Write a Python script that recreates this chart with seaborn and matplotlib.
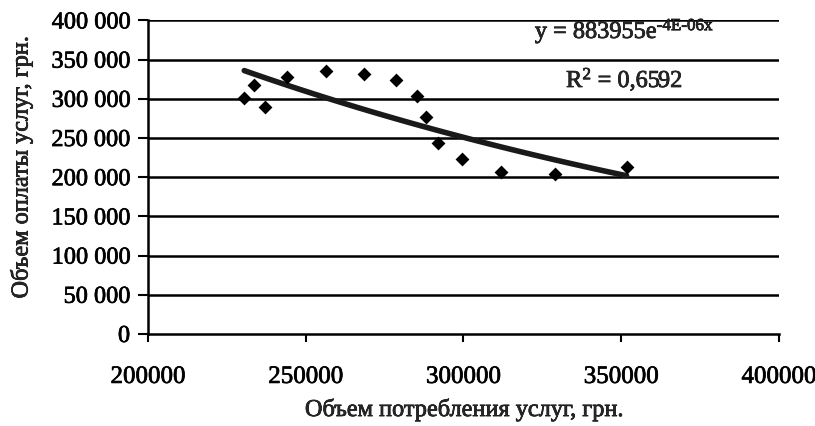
"""
Scatter of service payment vs. consumption with exponential trend line
"""

import numpy as np
import pandas as pd
import matplotlib
matplotlib.use('Agg')
import matplotlib.pyplot as plt
import matplotlib.patheffects as pe
from matplotlib.ticker import FuncFormatter, MultipleLocator
import seaborn as sns

# data
consumption = [230500, 233700, 237200, 244100, 256300, 268600, 278600,
               285200, 288100, 291900, 299600, 311900, 329100, 351700]
payment = [300800, 317700, 290000, 328300, 335600, 331800, 324100,
           303700, 276500, 244100, 222900, 206300, 203800, 213500]
eq_text = r'y = 883955e$^{\text{-4E-06x}}$'
r2_text = r'R$^{\mathrm{2}}$ = 0,6592'
x_label = 'Объем потребления услуг, грн.'
y_label = 'Объем оплаты услуг, грн.'

sns.set_style('white')
plt.rcParams['font.family'] = ['Liberation Serif', 'DejaVu Serif']
plt.rcParams['mathtext.fontset'] = 'custom'
plt.rcParams['mathtext.rm'] = 'Liberation Serif'
plt.rcParams['mathtext.it'] = 'Liberation Serif:italic'

# slightly heavier text, like the printed original
heavy = [pe.withStroke(linewidth=0.5, foreground='black')]

df = pd.DataFrame({'x': consumption, 'y': payment})

fig = plt.figure(figsize=(8.15, 4.26), dpi=100)
ax = fig.add_axes([0.1816, 0.216, 0.9558 - 0.1816, 0.952 - 0.216])

# exponential trend fitted on the data
b, ln_a = np.polyfit(df['x'], np.log(df['y']), 1)
xs = np.linspace(df['x'].min(), df['x'].max(), 100)
trend = pd.DataFrame({'x': xs, 'y': np.exp(ln_a) * np.exp(b * xs)})

for v in range(50000, 400001, 50000):
    ax.axhline(v, color='black', lw=1.8, zorder=1)

sns.lineplot(data=trend, x='x', y='y', ax=ax, color='#1a1a1a', lw=4, zorder=2)
sns.scatterplot(data=df, x='x', y='y', ax=ax, marker='D', color='black',
                s=50, edgecolor='black', linewidth=0, zorder=3)

ax.set_xlim(200000, 400000)
ax.set_ylim(0, 400000)
ax.xaxis.set_major_locator(MultipleLocator(50000))
ax.yaxis.set_major_locator(MultipleLocator(50000))
ax.yaxis.set_major_formatter(FuncFormatter(lambda v, p: f'{int(v):,}'.replace(',', ' ')))
ax.xaxis.set_major_formatter(FuncFormatter(lambda v, p: f'{int(v)}'))

for side in ['top', 'right']:
    ax.spines[side].set_visible(False)
for side in ['left', 'bottom']:
    ax.spines[side].set_color('black')
    ax.spines[side].set_linewidth(1.8)

ax.tick_params(axis='y', direction='out', length=7, width=1.5, pad=6,
               labelsize=17.5, left=True, colors='black')
ax.tick_params(axis='x', direction='out', length=6, width=1.5, pad=17,
               labelsize=18, bottom=True, colors='black')

ax.set_xlabel(x_label, fontsize=17.5, labelpad=8)
ax.set_ylabel(y_label, fontsize=17.5)
ax.yaxis.set_label_coords(-0.183, 0.53)

t1 = ax.text(0.755, 0.965, eq_text, transform=ax.transAxes, ha='center', va='center', fontsize=17.5)
t2 = ax.text(0.755, 0.81, r2_text, transform=ax.transAxes, ha='center', va='center', fontsize=17.5)

texts = [t1, t2, ax.xaxis.label, ax.yaxis.label] + ax.get_xticklabels() + ax.get_yticklabels()
for t in texts:
    t.set_path_effects(heavy)

plt.savefig('out.png', dpi=100)
plt.close()
